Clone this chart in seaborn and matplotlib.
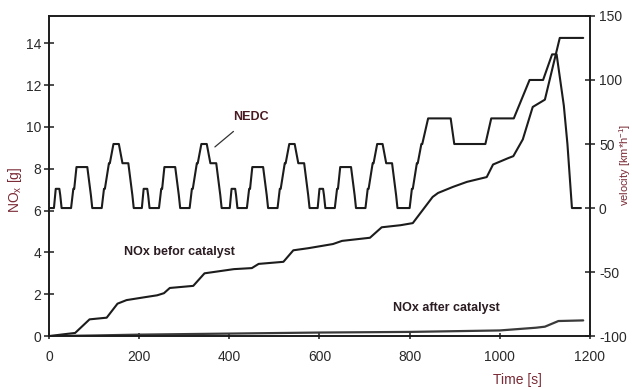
import matplotlib
matplotlib.use("Agg")
import matplotlib.pyplot as plt
import pandas as pd
import seaborn as sns

sns.set_theme(style="white")
plt.rcParams['font.family'] = ['Liberation Sans', 'DejaVu Sans']
plt.rcParams['mathtext.fontset'] = 'custom'
plt.rcParams['mathtext.rm'] = 'Liberation Sans'
plt.rcParams['mathtext.it'] = 'Liberation Sans'
plt.rcParams['axes.unicode_minus'] = False

# Cumulative NOx upstream of the catalyst [g]
t_before = [0, 30, 58, 90, 128, 152, 172, 210, 240, 255, 268, 320, 345, 410, 450,
            465, 520, 542, 575, 630, 650, 712, 738, 780, 807, 851, 863, 896, 927,
            971, 985, 1018, 1030, 1051, 1073, 1100, 1133, 1185]
nox_before = [0, 0.08, 0.15, 0.8, 0.88, 1.55, 1.72, 1.85, 1.95, 2.05, 2.3, 2.4, 3.0,
              3.2, 3.25, 3.45, 3.55, 4.1, 4.2, 4.4, 4.55, 4.7, 5.2, 5.3, 5.4, 6.65,
              6.84, 7.13, 7.37, 7.6, 8.2, 8.5, 8.6, 9.4, 10.95, 11.3, 14.25, 14.25]

# Cumulative NOx downstream of the catalyst [g]
t_after = [0, 100, 200, 400, 600, 800, 1000, 1080, 1100, 1130, 1185]
nox_after = [0, 0.03, 0.07, 0.12, 0.17, 0.2, 0.27, 0.4, 0.45, 0.72, 0.75]

# NEDC speed trace: urban ECE-15 block (run four times) and extra-urban block
ece_t = [0, 11, 15, 23, 25, 28, 49, 54, 56, 61, 85, 93, 96, 117, 122, 124, 133,
         135, 143, 155, 163, 176, 185, 188, 195]
ece_v = [0, 0, 15, 15, 10, 0, 0, 15, 15, 32, 32, 10, 0, 0, 15, 15, 35, 35, 50, 50,
         35, 35, 10, 0, 0]
eudc_t = [0, 20, 25, 27, 36, 38, 46, 48, 61, 111, 119, 188, 201, 251, 286, 316,
          336, 346, 362, 370, 380, 400]
eudc_v = [0, 0, 15, 15, 35, 35, 50, 50, 70, 70, 50, 50, 70, 70, 100, 100, 120,
          120, 80, 50, 0, 0]
ece_starts = [0, 195, 390, 585]
eudc_start = 780

x_ticks = [0, 200, 400, 600, 800, 1000, 1200]
nox_ticks = [0, 2, 4, 6, 8, 10, 12, 14]
vel_ticks = [-100, -50, 0, 50, 100, 150]

# assemble the speed trace table
rows = []
for s in ece_starts:
    rows += [(s + t, v) for t, v in zip(ece_t, ece_v)]
rows += [(eudc_start + t, v) for t, v in zip(eudc_t, eudc_v)]
nedc = pd.DataFrame(rows, columns=["time", "velocity"])
before = pd.DataFrame({"time": t_before, "nox": nox_before})
after = pd.DataFrame({"time": t_after, "nox": nox_after})

ink = "#1c1c1c"
label_red = "#7a2a35"

fig = plt.figure(figsize=(6.32, 3.89), dpi=100)
ax = fig.add_axes([0.0775, 0.136, 0.856, 0.823])
ax2 = ax.twinx()

sns.lineplot(data=before, x="time", y="nox", ax=ax, color=ink, lw=1.5,
             estimator=None, sort=False)
sns.lineplot(data=after, x="time", y="nox", ax=ax, color="#3a3a3a", lw=1.6,
             estimator=None, sort=False)
sns.lineplot(data=nedc, x="time", y="velocity", ax=ax2, color=ink, lw=1.5,
             estimator=None, sort=False)

ax.set_xlim(0, 1200)
ax.set_ylim(0, 15.3)
ax2.set_ylim(-100, 150)
ax.set_xticks(x_ticks)
ax.set_yticks(nox_ticks)
ax2.set_yticks(vel_ticks)
ax.set_xlabel("")
ax.set_ylabel("")
ax2.set_ylabel("")

for a in (ax, ax2):
    for sp in a.spines.values():
        sp.set_color(ink)
        sp.set_linewidth(1.2)

ax.tick_params(axis="y", direction="inout", length=7, width=1.1, color=ink,
               labelsize=10, labelcolor="#2a2a2a", pad=2, left=True)
ax.tick_params(axis="x", direction="inout", length=4, width=1.1, color=ink,
               labelsize=10, labelcolor="#2a2a2a", pad=8, bottom=True)
ax2.tick_params(axis="y", direction="inout", length=7, width=1.1, color=ink,
                labelsize=10, labelcolor="#2a2a2a", pad=3, right=True)

ax.text(290, 4.0, "NOx befor catalyst", ha="center", va="center",
        fontsize=9, fontweight="bold", color="#2a1c22")
ax.text(882, 1.35, "NOx after catalyst", ha="center", va="center",
        fontsize=9, fontweight="bold", color="#2a1c22")
ax.annotate("NEDC", xy=(368, 9.04), xytext=(448, 10.48), ha="center",
            va="center", fontsize=9, fontweight="bold", color="#4a1a22",
            arrowprops=dict(arrowstyle="-", color="#333333", lw=0.9,
                            shrinkA=6, shrinkB=0))

fig.text(517 / 632, 1 - 380 / 389, "Time [s]", ha="center", va="center",
         fontsize=10, color=label_red)
fig.text(15 / 632, 1 - 190 / 389, r"NO$_\mathregular{x}$ [g]", ha="center",
         va="center", rotation=90, fontsize=10, color=label_red)
fig.text(625 / 632, 1 - 165 / 389, r"velocity [km*h$^{-1}$]", ha="center",
         va="center", rotation=90, fontsize=8, color=label_red)

fig.savefig("out.png", dpi=100)
